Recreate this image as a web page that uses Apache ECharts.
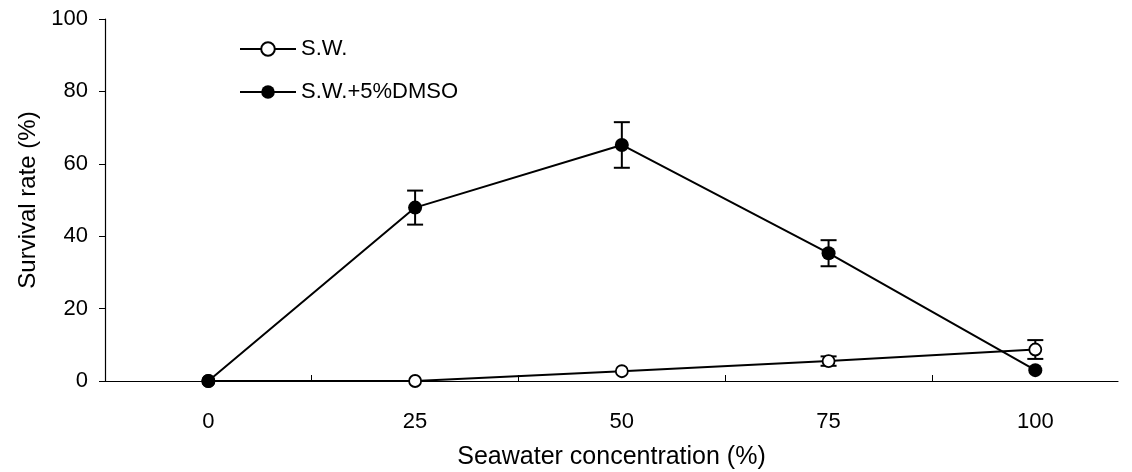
<!DOCTYPE html>
<html>
<head>
<meta charset="utf-8">
<script src="https://cdn.jsdelivr.net/npm/echarts@6/dist/echarts.min.js"></script>
<style>
  html, body { margin: 0; padding: 0; background: #fff; }
  #chart { width: 1132px; height: 472px; }
</style>
</head>
<body>
<div id="chart"></div>
<script>
// seawater concentration (%)
var concentrations = [0, 25, 50, 75, 100];
var xTickValues = [12.5, 37.5, 62.5, 87.5];
var yTicks = [0, 20, 40, 60, 80, 100];

// survival rate (%) and error (+/-)
var swMean = [0, 0, 2.7, 5.5, 8.7];
var swErr = [0, 0, 0, 1.3, 2.6];
var dmsoMean = [0, 47.9, 65.2, 35.3, 3.0];
var dmsoErr = [0, 4.7, 6.3, 3.6, 0];

var BLACK = '#000';
var FONT = 'Liberation Sans, Arial, sans-serif';

function pairs(xs, ys) {
  return xs.map(function (x, i) { return [x, ys[i]]; });
}
function errData(xs, m, e) {
  return xs.map(function (x, i) { return [x, m[i] - e[i], m[i] + e[i]]; })
    .filter(function (d) { return d[2] > d[1]; });
}

function errorBar(params, api) {
  var x = api.value(0);
  var lo = api.coord([x, api.value(1)]);
  var hi = api.coord([x, api.value(2)]);
  var half = 8;
  var style = { stroke: BLACK, lineWidth: 2 };
  return {
    type: 'group',
    children: [
      { type: 'line', shape: { x1: lo[0], y1: lo[1], x2: hi[0], y2: hi[1] }, style: style },
      { type: 'line', shape: { x1: hi[0] - half, y1: hi[1], x2: hi[0] + half, y2: hi[1] }, style: style },
      { type: 'line', shape: { x1: lo[0] - half, y1: lo[1], x2: lo[0] + half, y2: lo[1] }, style: style }
    ]
  };
}

var chart = echarts.init(document.getElementById('chart'));
chart.setOption({
  animation: false,
  backgroundColor: '#fff',
  grid: { left: 105, right: 14, top: 19, bottom: 91, containLabel: false, outerBoundsMode: 'none' },
  legend: {
    orient: 'vertical',
    left: 234,
    top: 33,
    itemWidth: 56,
    itemHeight: 17,
    itemGap: 21,
    data: ['S.W.', 'S.W.+5%DMSO'],
    textStyle: { color: BLACK, fontSize: 22, fontFamily: FONT }
  },
  xAxis: {
    type: 'value',
    min: -12.5,
    max: 110,
    name: 'Seawater concentration (%)',
    nameLocation: 'middle',
    nameGap: 64,
    nameTextStyle: { color: BLACK, fontSize: 25, fontFamily: FONT },
    splitLine: { show: false },
    axisLine: { onZero: false, lineStyle: { color: BLACK, width: 1.2 } },
    axisTick: { show: true, inside: true, length: 6, customValues: xTickValues, lineStyle: { color: BLACK } },
    axisLabel: { customValues: concentrations, margin: 30, color: BLACK, fontSize: 22, fontFamily: FONT }
  },
  yAxis: {
    type: 'value',
    min: 0,
    max: 100,
    interval: 20,
    name: 'Survival rate (%)',
    nameLocation: 'middle',
    nameGap: 61,
    nameTextStyle: { color: BLACK, fontSize: 24, fontFamily: FONT },
    splitLine: { show: false },
    axisLine: { show: true, onZero: false, lineStyle: { color: BLACK, width: 1.2 } },
    axisTick: { show: true, length: 6, lineStyle: { color: BLACK } },
    axisLabel: { margin: 17, color: BLACK, fontSize: 22, fontFamily: FONT,
      formatter: function (v) { return yTicks.indexOf(v) >= 0 ? String(v) : ''; } }
  },
  series: [
    {
      name: 'S.W.',
      type: 'line',
      data: pairs(concentrations, swMean),
      symbol: 'circle',
      symbolSize: 12,
      z: 3,
      lineStyle: { color: BLACK, width: 2 },
      itemStyle: { color: '#fff', borderColor: BLACK, borderWidth: 1.8 }
    },
    {
      name: 'S.W.+5%DMSO',
      type: 'line',
      data: pairs(concentrations, dmsoMean),
      symbol: 'circle',
      symbolSize: 14,
      z: 3,
      lineStyle: { color: BLACK, width: 2 },
      itemStyle: { color: BLACK, borderColor: BLACK, borderWidth: 0 }
    },
    {
      type: 'custom',
      renderItem: errorBar,
      data: errData(concentrations, swMean, swErr),
      z: 2,
      silent: true
    },
    {
      type: 'custom',
      renderItem: errorBar,
      data: errData(concentrations, dmsoMean, dmsoErr),
      z: 2,
      silent: true
    }
  ]
});
</script>
</body>
</html>
